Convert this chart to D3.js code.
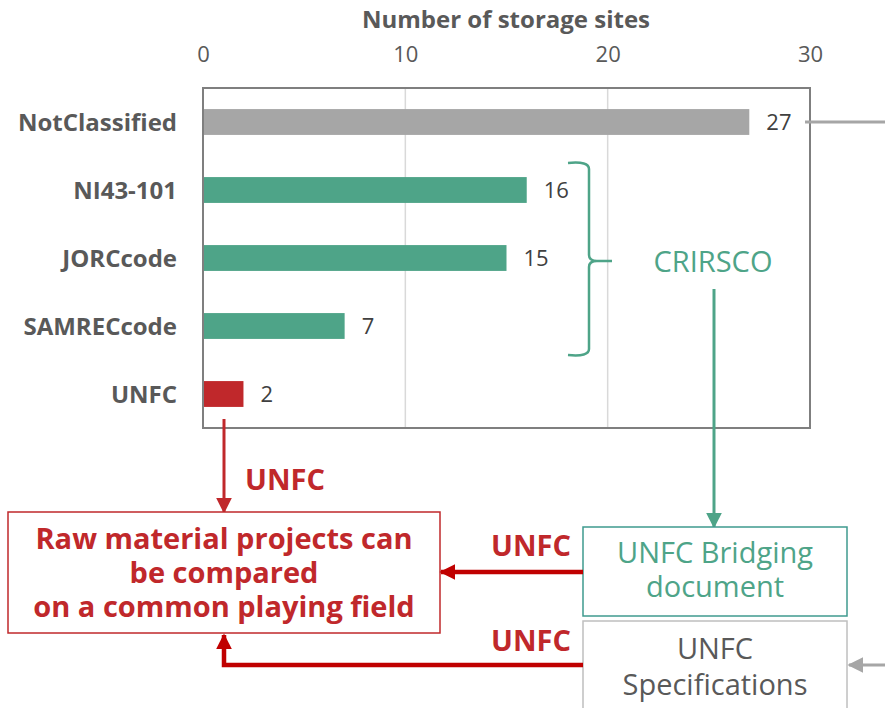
<!DOCTYPE html>
<meta charset="utf-8">
<style>
body { margin: 0; background: #fff; }
svg { font-family: "Open Sans", sans-serif; }
.tick text { fill: #595959; font-size: 22px; }
.cat { fill: #595959; font-size: 24px; font-weight: bold; }
.val { fill: #404040; font-size: 22px; }
.red { fill: #c0282b; font-weight: bold; font-size: 29px; }
</style>
<div id="chart"></div>
<script src="https://d3js.org/d3.v7.min.js"></script>
<script>

var categories = ["NotClassified", "NI43-101", "JORCcode", "SAMRECcode", "UNFC"];
var values = [27, 16, 15, 7, 2];
var barColors = ["#a6a6a6", "#4ea488", "#4ea488", "#4ea488", "#c0282b"];
var ticks = [0, 10, 20, 30];

var width = 885, height = 708;
var plotLeft = 203, plotRight = 810, plotTop = 88, plotBottom = 428;
var green = "#4ea488", red = "#c0282b", darkRed = "#c00000", grey = "#a6a6a6";

var svg = d3.select("#chart").append("svg")
    .attr("width", width)
    .attr("height", height);

var defs = svg.append("defs");
function marker(id, color) {
  defs.append("marker")
      .attr("id", id)
      .attr("viewBox", "0 0 10 10")
      .attr("refX", 9).attr("refY", 5)
      .attr("markerWidth", 16).attr("markerHeight", 16)
      .attr("markerUnits", "userSpaceOnUse")
      .attr("orient", "auto")
    .append("path")
      .attr("d", "M0,0L10,5L0,10Z")
      .attr("fill", color);
}
marker("ag", green);
marker("ar", red);
marker("ad", darkRed);
marker("agr", grey);

var x = d3.scaleLinear().domain([0, 30]).range([plotLeft, plotRight]);
var y = d3.scaleBand().domain(categories).range([plotTop, plotBottom]).paddingInner(0.62).paddingOuter(0.31);

// gridlines
svg.append("g").selectAll("line")
    .data([10, 20])
    .enter().append("line")
      .attr("x1", function(d) { return x(d); })
      .attr("x2", function(d) { return x(d); })
      .attr("y1", plotTop).attr("y2", plotBottom)
      .attr("stroke", "#d9d9d9").attr("stroke-width", 1.5);

// top axis labels
var axis = svg.append("g")
    .attr("transform", "translate(0,62)")
    .call(d3.axisTop(x).tickValues(ticks).tickSize(0).tickPadding(0));
axis.select(".domain").remove();
axis.attr("font-family", null).attr("font-size", null);

svg.append("text")
    .attr("x", 506).attr("y", 28)
    .attr("text-anchor", "middle")
    .attr("fill", "#595959").attr("font-size", 24).attr("font-weight", "bold")
    .text("Number of storage sites");

// bars
svg.append("g").selectAll("rect")
    .data(values)
    .enter().append("rect")
      .attr("x", x(0))
      .attr("y", function(d, i) { return y(categories[i]); })
      .attr("width", function(d) { return x(d) - x(0); })
      .attr("height", y.bandwidth())
      .attr("fill", function(d, i) { return barColors[i]; });

svg.append("g").selectAll("text")
    .data(values)
    .enter().append("text")
      .attr("class", "val")
      .attr("x", function(d) { return x(d) + 17; })
      .attr("y", function(d, i) { return y(categories[i]) + y.bandwidth() / 2; })
      .attr("dy", "0.36em")
      .text(function(d) { return d; });

svg.append("g").selectAll("text")
    .data(categories)
    .enter().append("text")
      .attr("class", "cat")
      .attr("x", plotLeft - 26)
      .attr("y", function(d) { return y(d) + y.bandwidth() / 2; })
      .attr("dy", "0.36em")
      .attr("text-anchor", "end")
      .text(function(d) { return d; });

// plot frame
svg.append("rect")
    .attr("x", plotLeft).attr("y", plotTop)
    .attr("width", plotRight - plotLeft).attr("height", plotBottom - plotTop)
    .attr("fill", "none").attr("stroke", "#7f7f7f").attr("stroke-width", 2);

// grey line from NotClassified
var yNC = y("NotClassified") + y.bandwidth() / 2;
svg.append("line")
    .attr("x1", 805).attr("x2", width).attr("y1", yNC).attr("y2", yNC)
    .attr("stroke", grey).attr("stroke-width", 3);

// CRIRSCO bracket
var bTop = y("NI43-101") + y.bandwidth() / 2 - 27;
var bBot = y("SAMRECcode") + y.bandwidth() / 2 + 29;
var bMid = (bTop + bBot) / 2 + 2;
var bx = 589;
svg.append("path")
    .attr("d", "M568," + bTop + " Q" + bx + "," + (bTop - 2) + " " + bx + "," + (bTop + 6) +
          " L" + bx + "," + (bMid - 6) + " Q" + bx + "," + bMid + " " + (bx + 8) + "," + bMid +
          " L612," + bMid +
          " M" + (bx + 8) + "," + bMid + " Q" + bx + "," + bMid + " " + bx + "," + (bMid + 6) +
          " L" + bx + "," + (bBot - 6) + " Q" + bx + "," + (bBot + 2) + " 568," + bBot)
    .attr("fill", "none").attr("stroke", green).attr("stroke-width", 2.5);

svg.append("text")
    .attr("x", 713).attr("y", bMid + 11)
    .attr("text-anchor", "middle")
    .attr("fill", green).attr("font-size", 29)
    .text("CRIRSCO");

// green arrow down to bridging box
svg.append("line")
    .attr("x1", 714).attr("x2", 714).attr("y1", 289).attr("y2", 527)
    .attr("stroke", green).attr("stroke-width", 3)
    .attr("marker-end", "url(#ag)");

// red arrow from UNFC bar
svg.append("line")
    .attr("x1", 224).attr("x2", 224).attr("y1", 419).attr("y2", 512)
    .attr("stroke", red).attr("stroke-width", 3)
    .attr("marker-end", "url(#ar)");
svg.append("text").attr("class", "red")
    .attr("x", 245).attr("y", 490).text("UNFC");

// result box
svg.append("rect")
    .attr("x", 8).attr("y", 512).attr("width", 432).attr("height", 121)
    .attr("fill", "#fff").attr("stroke", red).attr("stroke-width", 1.5);
svg.append("g").selectAll("text")
    .data(["Raw material projects can", "be compared", "on a common playing field"])
    .enter().append("text")
      .attr("class", "red")
      .attr("text-anchor", "middle")
      .attr("x", 224)
      .attr("y", function(d, i) { return 549 + i * 34; })
      .text(function(d) { return d; });

// bridging box
svg.append("rect")
    .attr("x", 583).attr("y", 527).attr("width", 264).attr("height", 89)
    .attr("fill", "#fff").attr("stroke", "#3f9a8f").attr("stroke-width", 1.5);
svg.append("g").selectAll("text")
    .data(["UNFC Bridging", "document"])
    .enter().append("text")
      .attr("text-anchor", "middle").attr("fill", green).attr("font-size", 29)
      .attr("x", 715)
      .attr("y", function(d, i) { return 563 + i * 34; })
      .text(function(d) { return d; });

// specifications box
svg.append("rect")
    .attr("x", 583).attr("y", 621).attr("width", 264).attr("height", 100)
    .attr("fill", "#fff").attr("stroke", "#bfbfbf").attr("stroke-width", 1.5);
svg.append("g").selectAll("text")
    .data(["UNFC", "Specifications"])
    .enter().append("text")
      .attr("text-anchor", "middle").attr("fill", "#595959").attr("font-size", 29)
      .attr("x", 715)
      .attr("y", function(d, i) { return 659 + i * 36; })
      .text(function(d) { return d; });

// grey arrow into specifications
svg.append("line")
    .attr("x1", width).attr("x2", 849).attr("y1", 665).attr("y2", 665)
    .attr("stroke", grey).attr("stroke-width", 3)
    .attr("marker-end", "url(#agr)");

// dark red arrows into result box
svg.append("line")
    .attr("x1", 583).attr("x2", 441).attr("y1", 572).attr("y2", 572)
    .attr("stroke", darkRed).attr("stroke-width", 4.5)
    .attr("marker-end", "url(#ad)");
svg.append("text").attr("class", "red")
    .attr("x", 571).attr("y", 556).attr("text-anchor", "end").text("UNFC");

svg.append("path")
    .attr("d", "M583,665 L224,665 L224,635")
    .attr("fill", "none").attr("stroke", darkRed).attr("stroke-width", 4.5)
    .attr("marker-end", "url(#ad)");
svg.append("text").attr("class", "red")
    .attr("x", 571).attr("y", 651).attr("text-anchor", "end").text("UNFC");

</script>
